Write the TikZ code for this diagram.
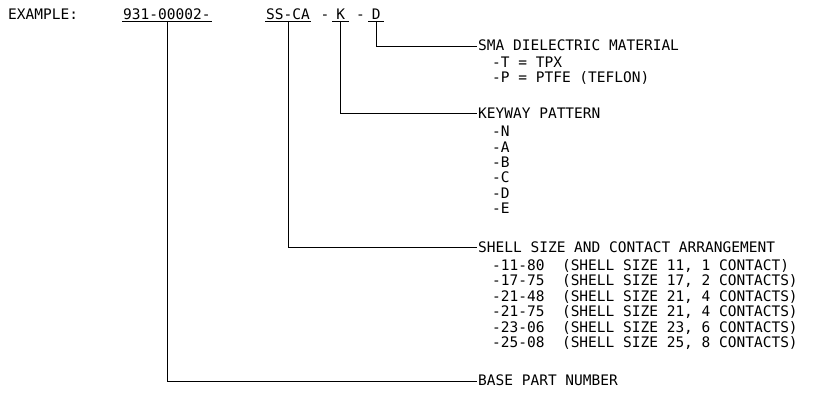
\documentclass[tikz,border=0pt]{standalone}
\usepackage{fontspec}
\setmainfont{DejaVu Sans Mono}
\usetikzlibrary{positioning}

\begin{document}
\begin{tikzpicture}[
    x=1pt, y=-1pt,
    node distance=2.6pt,
    every node/.style={inner sep=0pt, font=\fontsize{14.5}{15}\selectfont, text height=11pt, text depth=1.4pt},
    part/.style={anchor=base west, inner xsep=1pt},
    heading/.style={anchor=west, inner xsep=1.5pt},
    item/.style={anchor=north west},
    leader/.style={draw=black, line width=0.7pt}
]
\useasboundingbox (0,0) rectangle (813,393);

% example part number
\node[anchor=base west] (ex) at (8,19.3) {EXAMPLE:};
\node[part] (pn) at (122,19.3) {931-00002-};
\node[part] (sc) at (265,19.3) {SS-CA};
\node[anchor=base west] (d1) at (320.5,19.3) {-};
\node[part, minimum width=17pt] (kw) at (332,19.3) {K};
\node[anchor=base west] (d2) at (356,19.3) {-};
\node[part, minimum width=16pt] (dm) at (368,19.3) {D};

% dielectric
\node[heading] (sma) at (476.5,46) {SMA DIELECTRIC MATERIAL};
\node[below=4pt of sma.south west, item, xshift=15.5pt] (sma1) {-T = TPX};
\node[below=of sma1.south west, item] (sma2) {-P = PTFE (TEFLON)};

% keyway
\node[heading] (kp) at (476.5,113.5) {KEYWAY PATTERN};
\node[below=5.5pt of kp.south west, item, xshift=15.5pt] (kp1) {-N};
\node[below=of kp1.south west, item] (kp2) {-A};
\node[below=of kp2.south west, item] (kp3) {-B};
\node[below=of kp3.south west, item] (kp4) {-C};
\node[below=of kp4.south west, item] (kp5) {-D};
\node[below=of kp5.south west, item] (kp6) {-E};

% shell size
\node[heading] (ss) at (476.5,247.3) {SHELL SIZE AND CONTACT ARRANGEMENT};
\node[below=5.5pt of ss.south west, item, xshift=15.5pt] (ss1) {-11-80~~(SHELL SIZE 11, 1 CONTACT)};
\node[below=of ss1.south west, item] (ss2) {-17-75~~(SHELL SIZE 17, 2 CONTACTS)};
\node[below=of ss2.south west, item] (ss3) {-21-48~~(SHELL SIZE 21, 4 CONTACTS)};
\node[below=of ss3.south west, item] (ss4) {-21-75~~(SHELL SIZE 21, 4 CONTACTS)};
\node[below=of ss4.south west, item] (ss5) {-23-06~~(SHELL SIZE 23, 6 CONTACTS)};
\node[below=of ss5.south west, item] (ss6) {-25-08~~(SHELL SIZE 25, 8 CONTACTS)};

% base part
\node[heading] (bpn) at (476.5,381) {BASE PART NUMBER};

\foreach \n in {pn,sc,kw,dm}
    \draw[leader] (\n.south west) -- (\n.south east);

\draw[leader] (dm.south) |- (sma.west);
\draw[leader] (kw.south) |- (kp.west);
\draw[leader] (sc.south) |- (ss.west);
\draw[leader] (pn.south) |- (bpn.west);
\end{tikzpicture}
\end{document}
